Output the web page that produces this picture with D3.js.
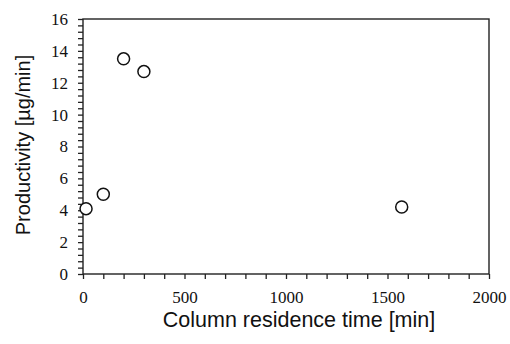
<!DOCTYPE html>
<html>
<head>
<meta charset="utf-8">
<script src="https://cdn.jsdelivr.net/npm/d3@7"></script>
<style>
  body { margin: 0; background: #fff; }
  .tick text { font-family: "Liberation Serif", "Times New Roman", serif; font-size: 17px; fill: #111; }
  .domain, .tick line { stroke: #222; stroke-width: 1.3; }
  .axis-title { font-family: "Liberation Sans", Arial, sans-serif; fill: #111; }
</style>
</head>
<body>
<div id="chart"></div>
<script>
"use strict";

// column residence time [min] and productivity [ug/min]
var residenceTime = [15, 100, 200, 300, 1570];
var productivity = [4.1, 5.0, 13.5, 12.7, 4.2];

var xTicks = [0, 100, 200, 300, 400, 500, 600, 700, 800, 900, 1000,
              1100, 1200, 1300, 1400, 1500, 1600, 1700, 1800, 1900, 2000];
var xTickLabels = ["0", "500", "1000", "1500", "2000"];
var yTickLabels = ["0", "2", "4", "6", "8", "10", "12", "14", "16"];

var xTitle = "Column residence time [min]";
var yTitle = "Productivity [\u00b5g/min]";

var margin = { top: 19, right: 21, bottom: 70, left: 83 },
    width = 510 - margin.left - margin.right,
    height = 344 - margin.top - margin.bottom;

var svg = d3.select("#chart")
  .append("svg")
    .attr("width", 510)
    .attr("height", 344)
  .append("g")
    .attr("transform", "translate(" + margin.left + "," + margin.top + ")");

var x = d3.scaleLinear().domain([0, 2000]).range([0, width]);
var y = d3.scaleLinear().domain([0, 16]).range([height, 0]);

// minor ticks every 0.4 on y
var yTicks = d3.range(0, 41).map(function(i) { return i * 0.4; });

function isLabel(v, labels) {
  return labels.indexOf(String(Math.round(v * 1000) / 1000)) >= 0;
}

svg.append("g")
    .attr("transform", "translate(0," + height + ")")
    .call(d3.axisBottom(x)
      .tickValues(xTicks)
      .tickSize(5)
      .tickPadding(12)
      .tickFormat(function(d) { return isLabel(d, xTickLabels) ? String(d) : ""; }))
    .call(function(g) { g.select(".domain").remove(); });

svg.append("g")
    .call(d3.axisLeft(y)
      .tickValues(yTicks)
      .tickSize(5)
      .tickPadding(10)
      .tickFormat(function(d) {
        var v = Math.round(d * 1000) / 1000;
        return isLabel(v, yTickLabels) ? String(v) : "";
      }))
    .call(function(g) { g.select(".domain").remove(); });

// plot frame
svg.append("rect")
    .attr("x", 0)
    .attr("y", 0)
    .attr("width", width)
    .attr("height", height)
    .style("fill", "none")
    .style("stroke", "#222")
    .style("stroke-width", 1.4);

svg.selectAll("circle.pt")
    .data(residenceTime)
  .enter().append("circle")
    .attr("class", "pt")
    .attr("cx", function(d) { return x(d); })
    .attr("cy", function(d, i) { return y(productivity[i]); })
    .attr("r", 6)
    .style("fill", "#fff")
    .style("stroke", "#111")
    .style("stroke-width", 1.5);

svg.append("text")
    .attr("class", "axis-title")
    .attr("x", 299 - margin.left)
    .attr("y", 327 - margin.top)
    .attr("text-anchor", "middle")
    .style("font-size", "21.5px")
    .text(xTitle);

svg.append("text")
    .attr("class", "axis-title")
    .attr("transform", "translate(" + (30 - margin.left) + "," + (145 - margin.top) + ") rotate(-90)")
    .attr("text-anchor", "middle")
    .style("font-size", "20px")
    .text(yTitle);
</script>
</body>
</html>
